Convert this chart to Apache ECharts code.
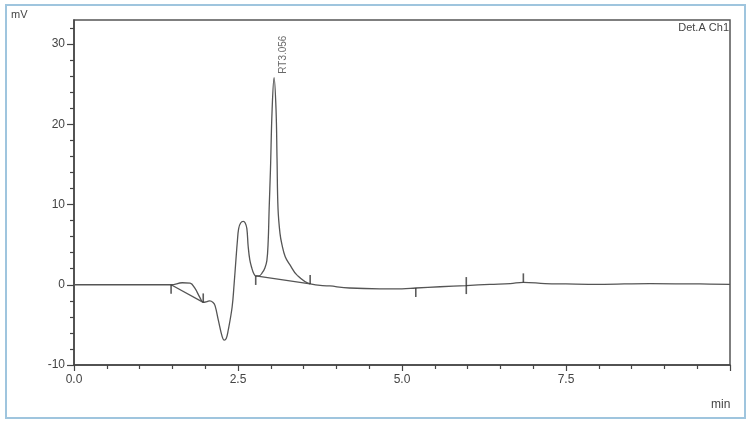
<!DOCTYPE html>
<html>
<head>
<meta charset="utf-8">
<script src="https://cdn.jsdelivr.net/npm/echarts@6/dist/echarts.min.js"></script>
<style>
  html, body { margin: 0; padding: 0; background: #fff; }
  #chart { width: 750px; height: 425px; }
</style>
</head>
<body>
<div id="chart"></div>
<script>
// chromatogram signal, [time (min), mV]
const signal = [
  [0, 0], [0.5, 0], [1.0, 0], [1.48, 0], [1.65, 0.25], [1.77, 0.2],
  [1.84, -0.4], [1.92, -1.6], [1.97, -2.2], [2.03, -2.1], [2.07, -2.0],
  [2.12, -2.2], [2.15, -2.6], [2.2, -4.4], [2.26, -6.5], [2.29, -6.9],
  [2.32, -6.7], [2.35, -5.7], [2.41, -2.8], [2.44, 0], [2.47, 3.3],
  [2.49, 5.4], [2.51, 7.0], [2.54, 7.7], [2.58, 7.9], [2.61, 7.7],
  [2.635, 7.0], [2.655, 4.8], [2.68, 3.1], [2.71, 2.1], [2.74, 1.4],
  [2.77, 1.1], [2.82, 1.1], [2.87, 1.5], [2.91, 2.1], [2.94, 3.0],
  [2.96, 5.4], [2.975, 9.5], [2.995, 14.4], [3.02, 21.8], [3.05, 25.8],
  [3.08, 21.8], [3.095, 15.7], [3.11, 9.5], [3.14, 6.4], [3.17, 5.0],
  [3.22, 3.5], [3.29, 2.5], [3.4, 1.2], [3.6, 0.1], [3.9, -0.15],
  [4.2, -0.4], [4.66, -0.5], [5.0, -0.5], [5.21, -0.4], [5.58, -0.25],
  [5.98, -0.1], [6.34, 0.05], [6.65, 0.15], [6.85, 0.3], [7.18, 0.15],
  [7.5, 0.1], [8.0, 0.05], [8.78, 0.15], [9.54, 0.1], [10.0, 0.05]
];

// integration baselines
const baseline1 = [[1.48, 0], [1.97, -2.2]];
const baseline2 = [[2.77, 1.1], [3.6, 0.1]];

// integration marks
const marksDown = [[1.48, 0], [2.77, 1.1], [5.21, -0.4]];
const marksUp = [[1.97, -2.2], [3.6, 0.1], [6.85, 0.3]];
const marksBoth = [[5.98, -0.1]];

const peak = [[3.05, 25.8]];
const peakName = 'RT3.056';

const xLabels = [0, 2.5, 5, 7.5];
const yLabels = [-10, 0, 10, 20, 30];
const yMinorTicks = [-8, -6, -4, -2, 2, 4, 6, 8, 12, 14, 16, 18, 22, 24, 26, 28, 32];

const ink = '#555';
const fontFamily = 'Liberation Sans, Arial, sans-serif';
const labelFont = { color: '#444', fontSize: 12, fontFamily: fontFamily };

const myChart = echarts.init(document.getElementById('chart'));

function marks(data, h, off) {
  return {
    type: 'scatter',
    data: data,
    symbol: 'rect',
    symbolSize: [1.6, h],
    symbolOffset: [0, off],
    itemStyle: { color: '#333' },
    silent: true,
    z: 4
  };
}

function base(data) {
  return {
    type: 'line',
    data: data,
    symbol: 'none',
    lineStyle: { color: ink, width: 1.3 },
    silent: true,
    z: 3
  };
}

let option = {
  animation: false,
  grid: {
    left: 74, right: 20, top: 20, bottom: 60,
    show: true, borderColor: '#555', borderWidth: 1.5
  },
  xAxis: {
    type: 'value',
    min: 0, max: 10, interval: 2.5,
    axisLine: { onZero: false, lineStyle: { color: '#444', width: 1.5 } },
    axisTick: { show: true, length: 6, lineStyle: { color: '#444', width: 1.2 } },
    minorTick: { show: true, splitNumber: 5, length: 4, lineStyle: { color: '#444', width: 1.2 } },
    splitLine: { show: false },
    axisLabel: Object.assign({
      margin: 9,
      formatter: function (v) { return xLabels.indexOf(v) >= 0 ? v.toFixed(1) : ''; }
    }, labelFont)
  },
  yAxis: [
    {
      type: 'value',
      min: -10, max: 33,
      axisLine: { show: true, onZero: false, lineStyle: { color: '#444', width: 1.5 } },
      axisTick: { show: true, length: 7, customValues: yLabels, lineStyle: { color: '#444', width: 1.2 } },
      splitLine: { show: false },
      axisLabel: Object.assign({ margin: 9, customValues: yLabels }, labelFont)
    },
    {
      type: 'value',
      position: 'left',
      min: -10, max: 33,
      axisLine: { show: false },
      axisTick: { show: true, length: 4, customValues: yMinorTicks, lineStyle: { color: '#444', width: 1.2 } },
      axisLabel: { show: false },
      splitLine: { show: false }
    }
  ],
  graphic: [
    { type: 'rect', shape: { x: 6, y: 5, width: 739, height: 413 },
      style: { fill: 'none', stroke: '#9fc5de', lineWidth: 2 }, silent: true },
    { type: 'text', left: 11, top: 9,
      style: { text: 'mV', fill: '#444', fontSize: 11, fontFamily: fontFamily } },
    { type: 'text', left: 711, top: 399,
      style: { text: 'min', fill: '#444', fontSize: 12, fontFamily: fontFamily } },
    { type: 'text', right: 21, top: 22,
      style: { text: 'Det.A Ch1', fill: '#444', fontSize: 11, fontFamily: fontFamily } }
  ],
  series: [
    {
      name: 'Det.A Ch1',
      type: 'line',
      data: signal,
      symbol: 'none',
      smooth: 0.4,
      lineStyle: { color: ink, width: 1.3 },
      z: 3
    },
    base(baseline1),
    base(baseline2),
    marks(marksDown, 9, 4.5),
    marks(marksUp, 9, -4.5),
    marks(marksBoth, 17, 0),
    {
      type: 'scatter',
      data: peak,
      symbolSize: 0,
      silent: true,
      label: {
        show: true,
        formatter: peakName,
        position: [9, -4],
        rotate: 90,
        align: 'left',
        verticalAlign: 'middle',
        color: '#444',
        fontSize: 10,
        fontFamily: fontFamily
      }
    }
  ]
};

option && myChart.setOption(option);

window.addEventListener('resize', function () {
  myChart.resize();
});
</script>
</body>
</html>
